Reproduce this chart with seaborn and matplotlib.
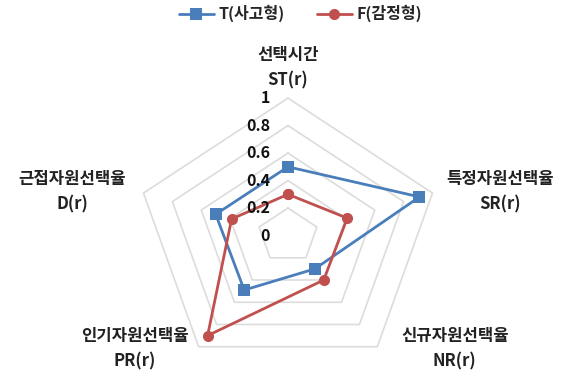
import numpy as np
import pandas as pd
import matplotlib
matplotlib.use("Agg")
import matplotlib.pyplot as plt
import seaborn as sns

# Radar categories (Korean name, code) and the two series
categories_kr = ["선택시간", "특정자원선택율", "신규자원선택율", "인기자원선택율", "근접자원선택율"]
categories_code = ["ST(r)", "SR(r)", "NR(r)", "PR(r)", "D(r)"]
series_names = ["T(사고형)", "F(감정형)"]
values_T = [0.50, 0.91, 0.30, 0.49, 0.50]
values_F = [0.30, 0.41, 0.40, 0.90, 0.39]
grid_levels = [0.2, 0.4, 0.6, 0.8, 1.0]
tick_labels = ["1", "0.8", "0.6", "0.4", "0.2", "0"]
tick_values = [1.0, 0.8, 0.6, 0.4, 0.2, 0.0]

sns.set_theme(style="white")
plt.rcParams["font.family"] = ["Noto Sans CJK KR", "DejaVu Sans"]

n = len(categories_kr)
theta = np.linspace(0, 2 * np.pi, n, endpoint=False)
theta_closed = np.append(theta, 2 * np.pi)

rows = []
for name, vals in zip(series_names, [values_T, values_F]):
    closed = list(vals) + [vals[0]]
    for t, v in zip(theta_closed, closed):
        rows.append({"theta": t, "value": v, "series": name})
df = pd.DataFrame(rows)

fig = plt.figure(figsize=(5.67, 3.74), dpi=100)
ax = fig.add_axes([0.2399, 0.0027, 0.536, 0.735], projection="polar")
ax.set_aspect("auto")
ax.set_theta_zero_location("N")
ax.set_theta_direction(-1)
ax.set_ylim(0, 1.0)
ax.grid(False)
ax.set_xticks([])
ax.set_yticks([])
ax.spines["polar"].set_visible(False)
ax.patch.set_alpha(0)

# Pentagon gridlines
for lvl in grid_levels:
    ax.plot(theta_closed, [lvl] * len(theta_closed), color="#dcdcdc",
            lw=1.2, zorder=1, clip_on=False)

palette = {"T(사고형)": "#4a7ebb", "F(감정형)": "#c0504d"}
sns.lineplot(data=df, x="theta", y="value", hue="series", style="series",
             markers={"T(사고형)": "s", "F(감정형)": "o"}, dashes=False,
             sort=False, estimator=None, palette=palette, lw=2,
             markersize=8, markeredgewidth=0, ax=ax, legend=True, zorder=3)
for line in ax.lines:
    line.set_clip_on(False)
ax.set_xlabel("")
ax.set_ylabel("")

handles, labels = ax.get_legend_handles_labels()
ax.get_legend().remove()
fig.legend(handles, labels, loc="upper center", bbox_to_anchor=(0.53, 1.025),
           ncol=2, frameon=False, handlelength=2.2, columnspacing=2.0,
           handletextpad=0.3, prop={"weight": "bold", "size": 11.5})

# Radial value labels along the top axis
for lbl, v in zip(tick_labels, tick_values):
    ax.annotate(lbl, xy=(0, v), xytext=(-13, 0), textcoords="offset points",
                ha="right", va="center", fontsize=11.5, fontweight="bold",
                color="#111111", annotation_clip=False)

# Category labels
label_pos = [(0.508, 0.852), (0.882, 0.522), (0.802, 0.102), (0.238, 0.102), (0.127, 0.522)]
for (x, y), kr, code in zip(label_pos, categories_kr, categories_code):
    fig.text(x, y, kr, ha="center", va="center", fontsize=12,
             fontweight="bold", color="#222222")
    fig.text(x, y - 0.068, code, ha="center", va="center", fontsize=12,
             fontweight="bold", color="#222222")

fig.savefig("out.png", dpi=100)
